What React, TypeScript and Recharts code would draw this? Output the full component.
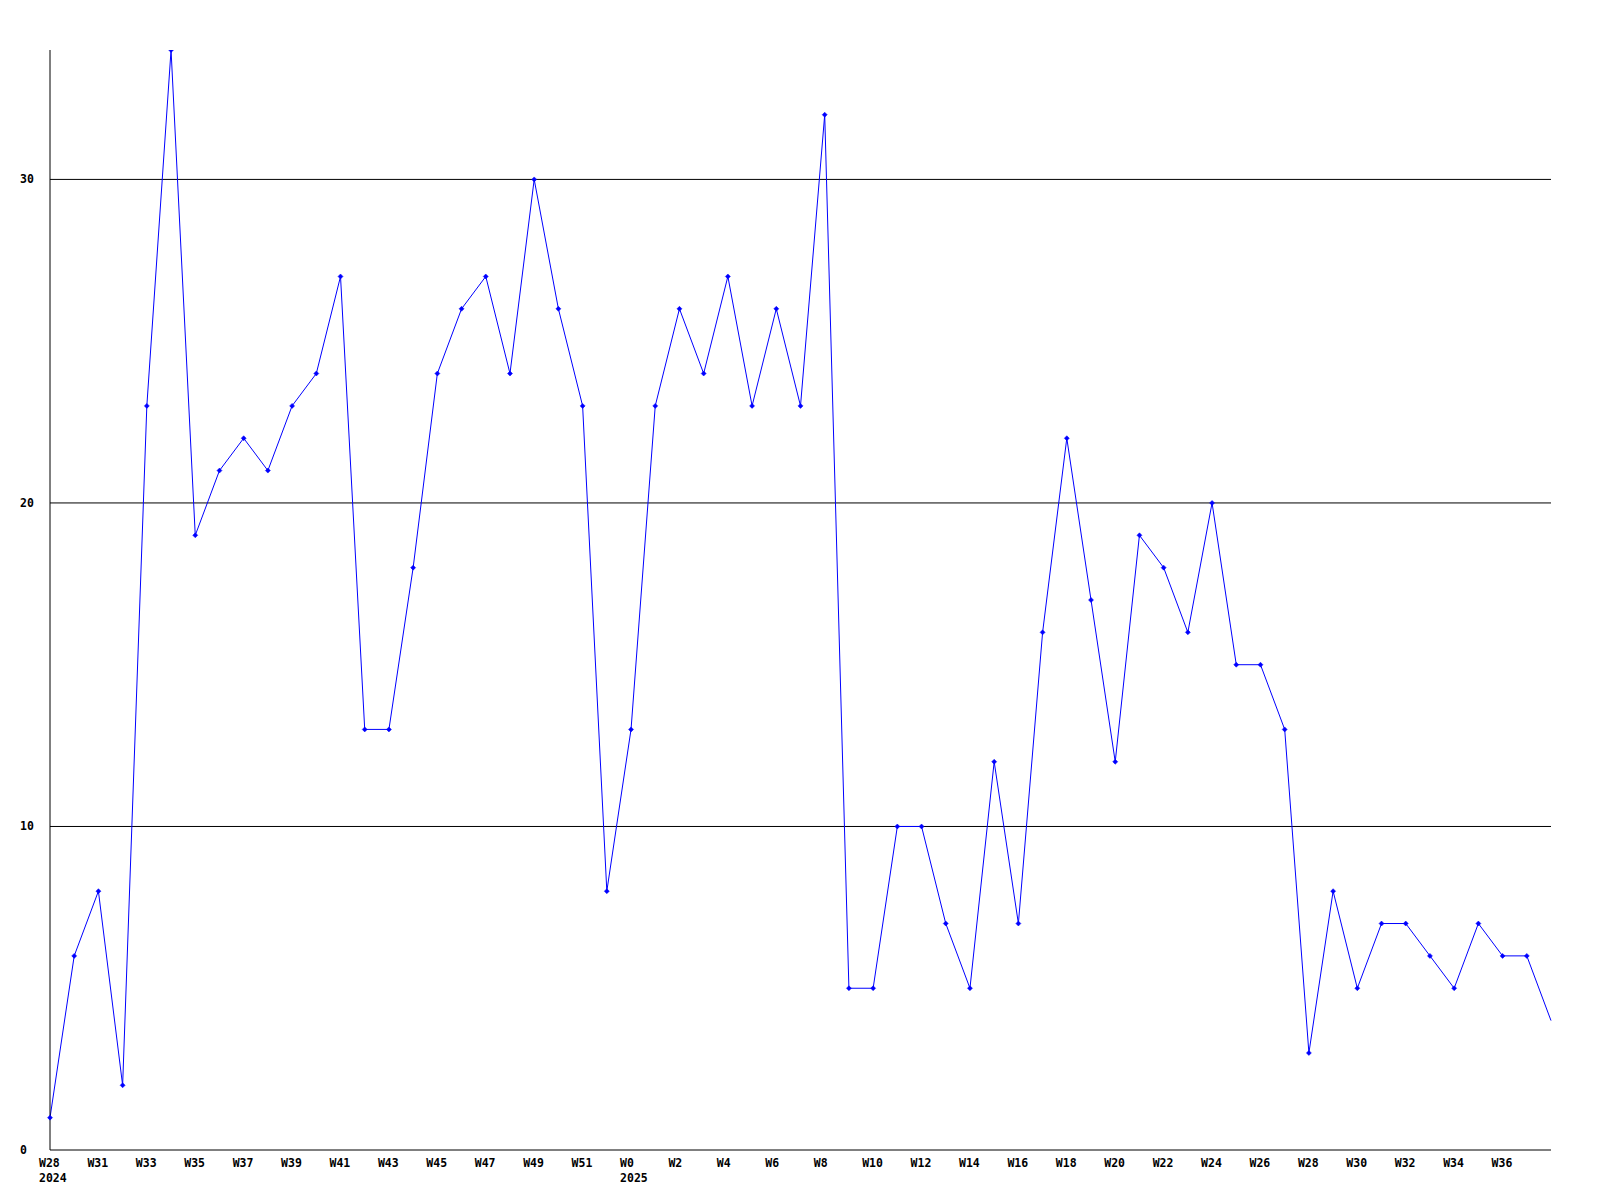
import React from "react";
import { LineChart, Line, XAxis, YAxis, CartesianGrid } from "recharts";

const years: string[] = [
  "2024","2024","2024","2024","2024","2024","2024","2024","2024","2024",
  "2024","2024","2024","2024","2024","2024","2024","2024","2024","2024",
  "2024","2024","2024","2024",
  "2025","2025","2025","2025","2025","2025","2025","2025","2025","2025",
  "2025","2025","2025","2025","2025","2025","2025","2025","2025","2025",
  "2025","2025","2025","2025","2025","2025","2025","2025","2025","2025",
  "2025","2025","2025","2025","2025","2025","2025","2025","2025",
];

const weeks: string[] = [
  "W28","W30","W31","W32","W33","W34","W35","W36","W37","W38",
  "W39","W40","W41","W42","W43","W44","W45","W46","W47","W48",
  "W49","W50","W51","W52",
  "W0","W1","W2","W3","W4","W5","W6","W7","W8","W9",
  "W10","W11","W12","W13","W14","W15","W16","W17","W18","W19",
  "W20","W21","W22","W23","W24","W25","W26","W27","W28","W29",
  "W30","W31","W32","W33","W34","W35","W36","W37","W38",
];

const values: number[] = [
  1, 6, 8, 2, 23, 34, 19, 21, 22, 21,
  23, 24, 27, 13, 13, 18, 24, 26, 27, 24,
  30, 26, 23, 8,
  13, 23, 26, 24, 27, 23, 26, 23, 32, 5,
  5, 10, 10, 7, 5, 12, 7, 16, 22, 17,
  12, 19, 18, 16, 20, 15, 15, 13, 3, 8,
  5, 7, 7, 6, 5, 7, 6, 6, 4,
];

const yTicks: number[] = [0, 10, 20, 30];
const gridValues: number[] = [10, 20, 30];
const yMax = 34;

const data = values.map((v, i) => ({
  key: `${years[i]}-${weeks[i]}`,
  week: weeks[i],
  year: years[i],
  value: v,
}));

// show every other week label, not the last clipped point
const tickKeys: string[] = data
  .filter((_, i) => i % 2 === 0 && i < data.length - 1)
  .map((d) => d.key);

const FONT = "'DejaVu Sans Mono', 'Liberation Mono', monospace";
const W = 1592;
const H = 1192;
const M = { top: 42, left: 0, right: 49, bottom: 10 };
const PLOT_BOTTOM = 1142;

const XTick = (props: any) => {
  const { x, payload } = props;
  const idx = data.findIndex((d) => d.key === payload.value);
  if (idx < 0) return null;
  const d = data[idx];
  const firstOfYear = idx === 0 || data[idx - 1].year !== d.year;
  return (
    <g>
      <text
        x={x - 11}
        y={PLOT_BOTTOM + 17}
        textAnchor="start"
        fontFamily={FONT}
        fontWeight="bold"
        fontSize={11.5}
        fill="#000"
      >
        {d.week}
      </text>
      {firstOfYear && (
        <text
          x={x - 11}
          y={PLOT_BOTTOM + 32}
          textAnchor="start"
          fontFamily={FONT}
          fontWeight="bold"
          fontSize={11.5}
          fill="#000"
        >
          {d.year}
        </text>
      )}
    </g>
  );
};

const YTick = (props: any) => {
  const { y, payload } = props;
  return (
    <text
      x={12}
      y={y}
      dy="0.35em"
      textAnchor="start"
      fontFamily={FONT}
      fontWeight="bold"
      fontSize={11.5}
      fill="#000"
    >
      {payload.value}
    </text>
  );
};

const Dot = (props: any) => {
  const { cx, cy, index } = props;
  if (index === data.length - 1 || cx == null || cy == null) return <g key={`d${index}`} />;
  const r = 2.5;
  return (
    <polygon
      key={`d${index}`}
      points={`${cx},${cy - r} ${cx + r},${cy} ${cx},${cy + r} ${cx - r},${cy}`}
      fill="#0000ff"
      stroke="#0000ff"
      strokeWidth={0.5}
    />
  );
};

export default function App() {
  return (
    <div style={{ width: W, height: H, background: "#fff" }}>
      <LineChart width={W} height={H} data={data} margin={M}>
        <CartesianGrid
          horizontal={true}
          vertical={false}
          horizontalValues={gridValues}
          stroke="#000"
          strokeWidth={1}
        />
        <XAxis
          dataKey="key"
          ticks={tickKeys}
          interval={0}
          tick={<XTick />}
          tickLine={false}
          axisLine={{ stroke: "#000", strokeWidth: 1 }}
          height={40}
        />
        <YAxis
          domain={[0, yMax]}
          ticks={yTicks}
          interval={0}
          tick={<YTick />}
          tickLine={false}
          axisLine={{ stroke: "#000", strokeWidth: 1 }}
          width={42}
          allowDataOverflow
        />
        <Line
          type="linear"
          dataKey="value"
          stroke="#0000ff"
          strokeWidth={1}
          dot={<Dot />}
          activeDot={false}
          isAnimationActive={false}
        />
      </LineChart>
    </div>
  );
}
